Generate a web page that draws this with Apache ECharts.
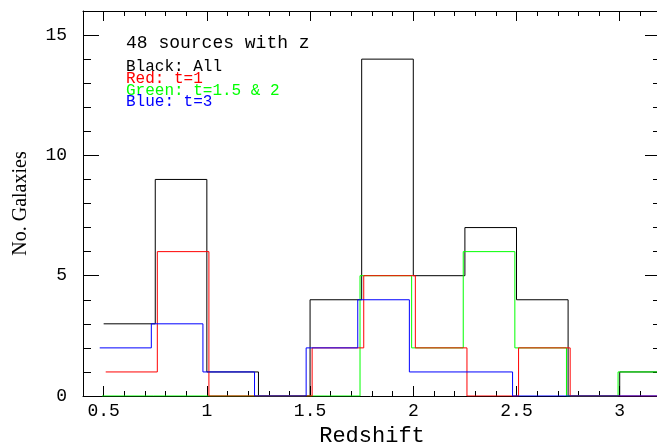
<!DOCTYPE html>
<html>
<head>
<meta charset="utf-8">
<script src="https://cdn.jsdelivr.net/npm/echarts@6.0.0/dist/echarts.min.js"></script>
<style>
    html, body { margin: 0; padding: 0; background: #fff; }
    #chart { width: 657px; height: 444px; }
</style>
</head>
<body>
<div id="chart"></div>
<script>
// histogram bins (redshift) and counts per bin
const binEdges = [0.5, 0.75, 1.0, 1.25, 1.5, 1.75, 2.0, 2.25, 2.5, 2.75, 3.0, 3.25];
const allCounts = [3, 9, 1, 0, 4, 14, 5, 7, 4, 0, 1];
const redCounts = [1, 6, 0, 0, 2, 5, 2, 0, 2, 0, 0];
const greenCounts = [0, 0, 0, 0, 0, 5, 2, 6, 2, 0, 1];
const blueCounts = [2, 3, 1, 0, 2, 4, 1, 1, 0, 0, 0];

const monoFont = '"Liberation Mono", "DejaVu Sans Mono", monospace';

// small horizontal shift so overlapping histograms stay visible
const shift = { all: 0, green: -0.008, red: 0.01, blue: -0.019 };

function stepData(counts, dx) {
    const pts = counts.map((c, i) => [binEdges[i] + dx, c]);
    pts.push([binEdges[counts.length] + dx, counts[counts.length - 1]]);
    return pts;
}

function histSeries(name, counts, dx, color) {
    return {
        name: name,
        type: 'line',
        step: 'end',
        symbol: 'none',
        data: stepData(counts, dx),
        lineStyle: { color: color, width: 1 },
    };
}

// major x ticks every 0.5 (auto), with the frame line
function xAxisOf(position, label) {
    return {
        type: 'value',
        position: position,
        min: 0.4,
        max: 3.2,
        axisLine: { show: true, onZero: false, lineStyle: { color: '#000', width: 1 } },
        axisTick: { show: true, inside: true, length: 10, lineStyle: { color: '#000', width: 1 } },
        splitLine: { show: false },
        axisLabel: label,
    };
}

// minor x ticks every 0.1
function xMinorOf(position) {
    return {
        type: 'value',
        position: position,
        min: 0.4,
        max: 3.2,
        interval: 0.1,
        axisLine: { show: false, onZero: false },
        axisTick: { show: true, inside: true, length: 5, lineStyle: { color: '#000', width: 1 } },
        splitLine: { show: false },
        axisLabel: { show: false },
    };
}

function yAxisOf(position, label) {
    return {
        type: 'value',
        position: position,
        min: 0,
        max: 16,
        interval: 5,
        axisLine: { show: true, onZero: false, lineStyle: { color: '#000', width: 1 } },
        axisTick: { show: true, inside: true, length: 16, lineStyle: { color: '#000', width: 1 } },
        minorTick: { show: true, splitNumber: 5, length: 8, lineStyle: { color: '#000', width: 1 } },
        splitLine: { show: false },
        axisLabel: label,
    };
}

const xBottom = xAxisOf('bottom', {
    margin: 6,
    fontFamily: monoFont,
    fontSize: 18,
    color: '#000',
    showMinLabel: false,
    showMaxLabel: false,
});
xBottom.name = 'Redshift';
xBottom.nameLocation = 'middle';
xBottom.nameGap = 24;
xBottom.nameTextStyle = { fontFamily: monoFont, fontSize: 22, color: '#000' };

const yLeft = yAxisOf('left', {
    margin: 16,
    fontFamily: monoFont,
    fontSize: 18,
    color: '#000',
    showMaxLabel: false,
});
yLeft.name = 'No. Galaxies';
yLeft.nameLocation = 'middle';
yLeft.nameGap = 52;
yLeft.nameTextStyle = { fontFamily: '"Liberation Serif", serif', fontSize: 20, color: '#000' };

const option = {
    backgroundColor: '#fff',
    animation: false,
    grid: { left: 83, top: 11, right: -4, bottom: 48, outerBoundsMode: 'none' },
    xAxis: [xBottom, xAxisOf('top', { show: false }), xMinorOf('bottom'), xMinorOf('top')],
    yAxis: [yLeft, yAxisOf('right', { show: false })],
    graphic: [
        { type: 'text', x: 126, y: 43, style: { text: '48 sources with z', font: '18px ' + monoFont, fill: '#000', verticalAlign: 'middle' } },
        { type: 'text', x: 126, y: 67, style: { text: 'Black: All', font: '16px ' + monoFont, fill: '#000', verticalAlign: 'middle' } },
        { type: 'text', x: 126, y: 79, style: { text: 'Red: t=1', font: '16px ' + monoFont, fill: '#ff0000', verticalAlign: 'middle' } },
        { type: 'text', x: 126, y: 90.5, style: { text: 'Green: t=1.5 & 2', font: '16px ' + monoFont, fill: '#00ff00', verticalAlign: 'middle' } },
        { type: 'text', x: 126, y: 102, style: { text: 'Blue: t=3', font: '16px ' + monoFont, fill: '#0000ff', verticalAlign: 'middle' } },
    ],
    series: [
        histSeries('All', allCounts, shift.all, '#000000'),
        histSeries('t=1.5 & 2', greenCounts, shift.green, '#00ff00'),
        histSeries('t=1', redCounts, shift.red, '#ff0000'),
        histSeries('t=3', blueCounts, shift.blue, '#0000ff'),
    ],
};

const myChart = echarts.init(document.getElementById('chart'), null, { renderer: 'canvas' });
myChart.setOption(option);

// if the x frame lines did not get drawn, fall back to the grid border
const frameLines = myChart.getZr().storage.getDisplayList(true).filter((el) =>
    el.shape && el.shape.y1 !== undefined &&
    Math.abs(el.shape.y1 - el.shape.y2) < 0.01 && Math.abs(el.shape.x2 - el.shape.x1) > 100
).length;
if (frameLines < 2) {
    myChart.setOption({ grid: { show: true, borderColor: '#000', borderWidth: 1, backgroundColor: 'transparent' } });
}
</script>
</body>
</html>
